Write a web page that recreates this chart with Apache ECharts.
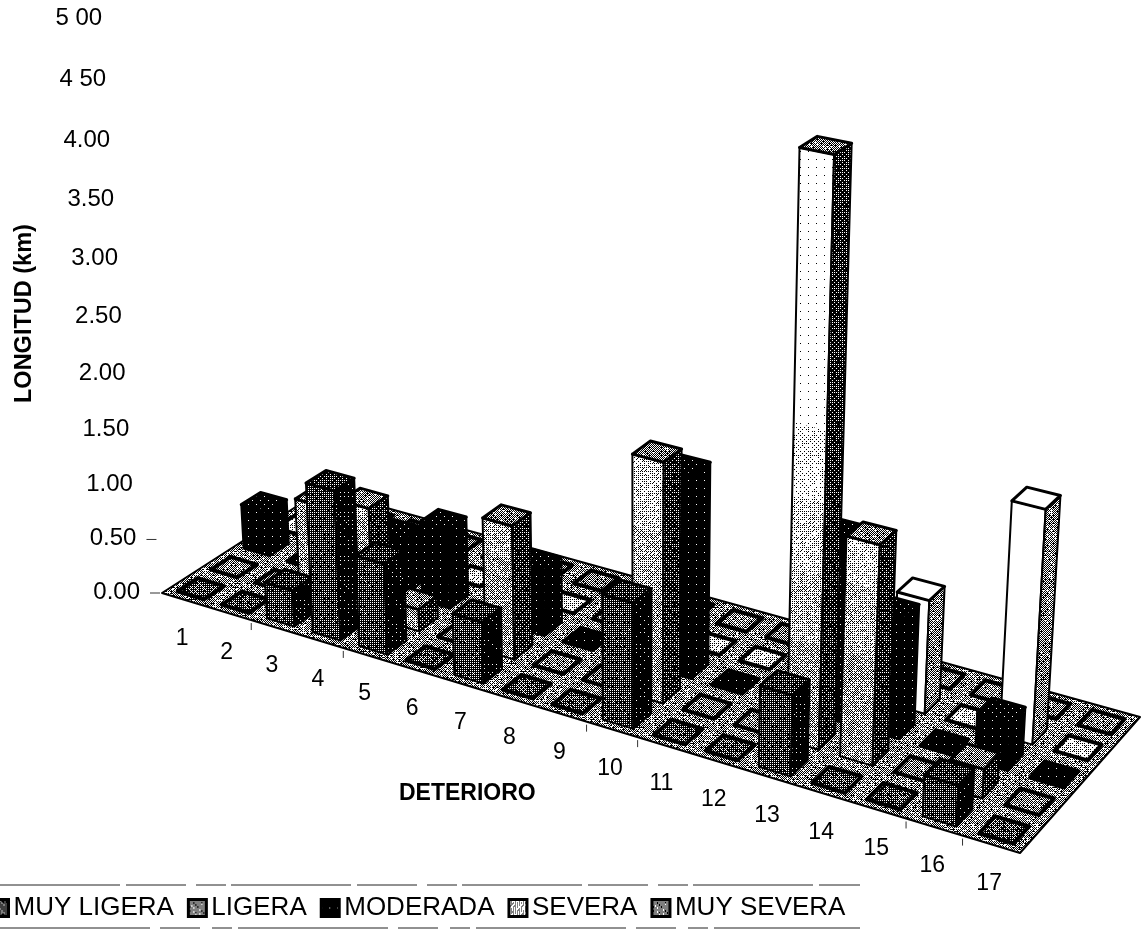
<!DOCTYPE html>
<html>
<head>
<meta charset="utf-8">
<style>html,body{margin:0;padding:0;background:#fff}#chart{width:1142px;height:930px}</style>
<script src="https://cdn.jsdelivr.net/npm/echarts@6/dist/echarts.min.js"></script>
</head>
<body>
<div id="chart"></div>
<script>
// Pavement distress lengths (km) by distress type and severity.
const categories = ['1','2','3','4','5','6','7','8','9','10','11','12','13','14','15','16','17'];
const severities = ['MUY LIGERA','LIGERA','MODERADA','SEVERA','MUY SEVERA'];
const muyLigera = [0,0,0.33,1.35,0.82,0,0.55,0,0,1.1,0,0,0.7,0,0,0.35,0];
const ligera    = [0,0,0.9,1.0,0.2,0,1.2,0,0,2.1,0,0,4.85,1.88,0,0.25,0];
const moderada  = [0.42,0,0,0.52,0.73,0,0.6,0,0,1.8,0,0,1.6,1.05,0,0.42,0];
const severa    = [0,0,0,0,0,0,0,0,0,0,0,0,0,1.0,0,2.02,0];
const muySevera = [0,0,0,0,0,0,0,0,0,0,0,0,0,0,0,0,0];
const tickValues = [0,0.5,1,1.5,2,2.5,3,3.5,4,4.5,5];
const tickLabels = ['0.00','0.50','1.00','1.50','2.00','2.50','3.00','3.50','4.00','4 50','5 00'];
// Front-edge dividers that survive in print, as category boundaries.
const edgeTicks = [2,4,9,10,15,16];

// Camera: floor corners on screen and the vanishing point of the vertical axis.
const floorA = [162,593], floorB = [1020,853], floorC = [1140,717], floorD = [322,490];
const vertVP = [637,7790], vertW = -0.01477;
const GRID_W = 1142, GRID_H = 930, BAR_HALF = 0.30, ROWS = 5;

const H = (function () {
  const dx1 = floorB[0]-floorC[0], dy1 = floorB[1]-floorC[1];
  const dx2 = floorD[0]-floorC[0], dy2 = floorD[1]-floorC[1];
  const sx = floorA[0]-floorB[0]+floorC[0]-floorD[0];
  const sy = floorA[1]-floorB[1]+floorC[1]-floorD[1];
  const den = dx1*dy2-dy1*dx2;
  const g = (sx*dy2-sy*dx2)/den, h = (dx1*sy-dy1*sx)/den;
  return {
    a: floorB[0]*(1+g)-floorA[0], b: floorD[0]*(1+h)-floorA[0], c: floorA[0],
    d: floorB[1]*(1+g)-floorA[1], e: floorD[1]*(1+h)-floorA[1], f: floorA[1], g, h
  };
})();

// s: along the categories (0..1), t: into the depth (0..1), v: height in axis units
function project(s, t, v) {
  const w = H.g*s + H.h*t + 1 + vertW*v;
  return [
    (H.a*s + H.b*t + H.c + vertW*vertVP[0]*v)/w,
    (H.d*s + H.e*t + H.f + vertW*vertVP[1]*v)/w
  ];
}

// Ordered dither tiles, the halftone of a monochrome print.
const BAYER = [0,32,8,40,2,34,10,42,48,16,56,24,50,18,58,26,12,44,4,36,14,46,6,38,60,28,52,20,62,30,54,22,
  3,35,11,43,1,33,9,41,51,19,59,27,49,17,57,25,15,47,7,39,13,45,5,37,63,31,55,23,61,29,53,21];
function dither(level, grit) {
  const n = 64, cv = document.createElement('canvas');
  cv.width = cv.height = n;
  const ctx = cv.getContext('2d'), img = ctx.createImageData(n, n);
  for (let y = 0; y < n; y++) for (let x = 0; x < n; x++) {
    const th = (BAYER[(y%8)*8+(x%8)]+0.5)/64;
    const hash = Math.abs(Math.sin(x*12.9898+y*78.233)*43758.5453)%1;
    const on = level + (hash-0.5)*(grit||0) > th;
    const c = on ? 255 : 0, i = (y*n+x)*4;
    img.data[i]=img.data[i+1]=img.data[i+2]=c; img.data[i+3]=255;
  }
  ctx.putImageData(img,0,0);
  return {image: cv, repeat: 'repeat'};
}
const floorFill = dither(0.55, 0.5);
const skins = [
  {front: dither(0.24,0.1), side: dither(0.03,0.1), top: dither(0.20,0.1), tile: dither(0.30,0.3)},
  {front: dither(0.75,0.3), side: dither(0.16,0.2), top: dither(0.50,0.3), tile: dither(0.50,0.3)},
  {front: dither(0.01),     side: dither(0.01),     top: dither(0.03),     tile: dither(0.01)},
  {front: dither(1.00),     side: dither(0.50,0.3), top: dither(1.00),     tile: dither(0.80,0.3)},
  {front: dither(0.80,0.3), side: dither(0.40,0.2), top: dither(0.50,0.3), tile: dither(0.50,0.3)}
];
// The lighter severity fades towards white with height.
const fadeBands = [[0,0.9,dither(0.60,0.3)],[0.9,1.5,dither(0.70,0.3)],[1.5,2.1,dither(0.80,0.3)],
  [2.1,2.7,dither(0.90,0.2)],[2.7,9,dither(0.985)]];

function poly(points, fill, lineWidth) {
  return {type:'polygon', shape:{points}, style:{fill, stroke:'#000', lineWidth, lineJoin:'round'}};
}

function barRenderer(row) {
  return function (params, api) {
    const base = api.coord([api.value(0), 0]);
    const top = api.coord([api.value(0), api.value(1)]);
    const band = api.size([1, 0])[0];
    const v = (base[1]-top[1])/(GRID_H/5);
    const s0 = (base[0]-band*BAR_HALF)/GRID_W, s1 = (base[0]+band*BAR_HALF)/GRID_W;
    const t0 = (row+0.5-BAR_HALF)/ROWS, t1 = (row+0.5+BAR_HALF)/ROWS;
    const skin = skins[row];
    if (v <= 0) {
      return poly([project(s0,t0,0),project(s1,t0,0),project(s1,t1,0),project(s0,t1,0)], skin.tile, 4);
    }
    const kids = [];
    if (row === 1) {
      fadeBands.forEach(b => {
        if (b[0] >= v) return;
        const hi = Math.min(v, b[1]);
        kids.push({type:'polygon', shape:{points:[project(s0,t0,b[0]),project(s1,t0,b[0]),project(s1,t0,hi),project(s0,t0,hi)]},
          style:{fill:b[2]}});
      });
      kids.push({type:'polygon', shape:{points:[project(s0,t0,0),project(s1,t0,0),project(s1,t0,v),project(s0,t0,v)]},
        style:{fill:'none', stroke:'#000', lineWidth:2}});
    } else {
      kids.push(poly([project(s0,t0,0),project(s1,t0,0),project(s1,t0,v),project(s0,t0,v)], skin.front, 2));
    }
    kids.push(poly([project(s1,t0,0),project(s1,t1,0),project(s1,t1,v),project(s1,t0,v)], skin.side, 2));
    kids.push(poly([project(s0,t0,v),project(s1,t0,v),project(s1,t1,v),project(s0,t1,v)], skin.top, 3));
    return {type:'group', children:kids};
  };
}

const rowsData = [muyLigera, ligera, moderada, severa, muySevera];
const AXIS_FONT = '"Liberation Sans"';

// Farthest row first so nearer bars paint over it.
const barSeries = [4,3,2,1,0].map(row => ({
  type: 'custom',
  name: severities[row],
  coordinateSystem: 'cartesian2d',
  clip: false,
  z: 3,
  itemStyle: {color: skins[row].tile, borderColor:'#000', borderWidth:2},
  encode: {x:0, y:1},
  renderItem: barRenderer(row),
  data: rowsData[row].map((v,i) => [i, v])
}));

const option = {
  animation: false,
  backgroundColor: '#fff',
  grid: {left:0, top:0, width:GRID_W, height:GRID_H},
  xAxis: {type:'category', data:categories, show:false},
  yAxis: {type:'value', min:0, max:5, interval:0.5, show:false},
  legend: {
    left: -11, top: 895, padding: 0, itemWidth: 18, itemHeight: 17, itemGap: 13,
    data: severities.map((name,i) => ({name, icon:'rect', itemStyle:{color:skins[i].tile, borderColor:'#000', borderWidth:3}})),
    textStyle: {fontFamily:AXIS_FONT, fontSize:26, color:'#000', padding:0}
  },
  graphic: [
    {type:'line', shape:{x1:0,y1:885,x2:860,y2:885}, style:{stroke:'#222',lineWidth:1,lineDash:[120,6,60,10,30,5]}},
    {type:'line', shape:{x1:0,y1:928,x2:860,y2:928}, style:{stroke:'#222',lineWidth:1,lineDash:[150,10,40,12,20,6]}},
    {type:'text', left:399, top:782, style:{text:'DETERIORO', font:'bold 23px '+AXIS_FONT, fill:'#000'}},
    {type:'text', x:13, y:403, rotation:Math.PI/2, style:{text:'LONGITUD (km)', font:'bold 23.5px '+AXIS_FONT, fill:'#000'}}
  ],
  series: [
    // floor plate
    {type:'custom', coordinateSystem:'cartesian2d', clip:false, z:1, silent:true, data:[[0,0]], encode:{x:0,y:1},
     renderItem(){
       return poly([project(0,0,0),project(1,0,0),project(1,1,0),project(0,1,0)], floorFill, 2);
     }},
    // value axis labels and ticks follow the camera's vertical
    {type:'custom', coordinateSystem:'cartesian2d', clip:false, z:2, silent:true,
     data: tickValues.map(v => [0,v]), encode:{x:0,y:1},
     renderItem(params, api){
       const y = api.coord([0, api.value(1)])[1];
       const v = (GRID_H-y)/(GRID_H/5);
       const p = project(0,0,v);
       const kids = [{type:'text', x:p[0]-22, y:p[1]-1,
         style:{text:tickLabels[params.dataIndex], font:'24px '+AXIS_FONT, fill:'#000', align:'right', verticalAlign:'middle'}}];
       if (params.dataIndex < 2) kids.push({type:'line', shape:{x1:p[0]-12,y1:p[1],x2:p[0]-2,y2:p[1]}, style:{stroke:'#333',lineWidth:1}});
       return {type:'group', children:kids};
     }},
    // category labels along the front edge, with the surviving dividers
    {type:'custom', coordinateSystem:'cartesian2d', clip:false, z:2, silent:true,
     data: categories.map((c,i) => [i,0]), encode:{x:0,y:1},
     renderItem(params, api){
       const i = api.value(0);
       const x = api.coord([i,0])[0];
       const p = project(x/GRID_W,0,0);
       const kids = [{type:'text', x:p[0]-2, y:p[1]+39,
         style:{text:categories[params.dataIndex], font:'23px '+AXIS_FONT, fill:'#000', align:'center', verticalAlign:'middle'}}];
       if (edgeTicks.indexOf(i) >= 0) {
         const q = project(i/categories.length,0,0);
         kids.push({type:'line', shape:{x1:q[0],y1:q[1]+3,x2:q[0],y2:q[1]+10}, style:{stroke:'#333',lineWidth:1}});
       }
       return {type:'group', children:kids};
     }}
  ].concat(barSeries)
};

const chart = echarts.init(document.getElementById('chart'), null, {renderer:'canvas'});
chart.setOption(option);
</script>
</body>
</html>
